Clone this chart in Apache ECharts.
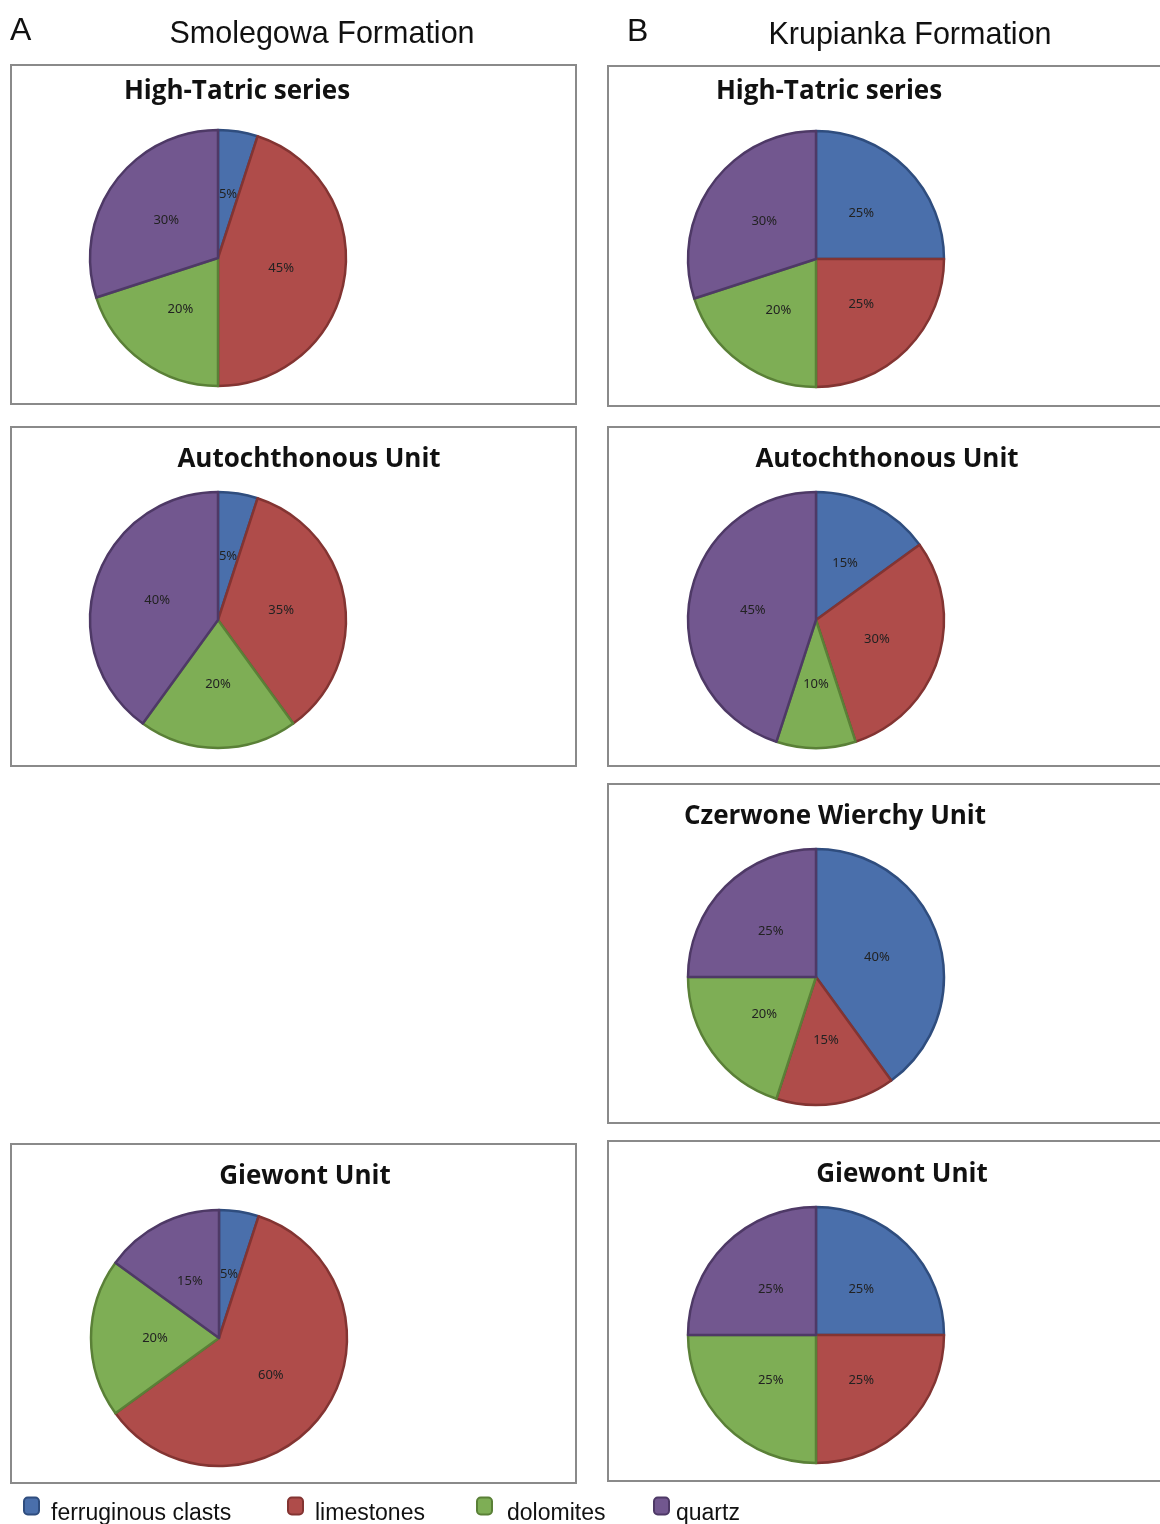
<!DOCTYPE html>
<html><head><meta charset="utf-8">
<script src="https://cdn.jsdelivr.net/npm/echarts@6/dist/echarts.min.js"></script>
<style>html,body{margin:0;padding:0;background:#fff}#c{width:1160px;height:1524px}</style>
</head><body><div id="c"></div>
<script>
const categories = ['ferruginous clasts', 'limestones', 'dolomites', 'quartz'];
const smolegowaHighTatric = [5, 45, 20, 30];
const smolegowaAutochthonous = [5, 35, 20, 40];
const smolegowaGiewont = [5, 60, 20, 15];
const krupiankaHighTatric = [25, 25, 20, 30];
const krupiankaAutochthonous = [15, 30, 10, 45];
const krupiankaCzerwoneWierchy = [40, 15, 20, 25];
const krupiankaGiewont = [25, 25, 25, 25];

const fills = ['#4A6FAB', '#AF4C4A', '#7EAE55', '#72578F'];
const borders = ['#2F4D7E', '#833432', '#5A8037', '#4E3966'];

const panels = [
  {title: 'High-Tatric series', data: smolegowaHighTatric, box: [11, 65, 565, 339], c: [218, 258], tx: 237, ty: 89},
  {title: 'Autochthonous Unit', data: smolegowaAutochthonous, box: [11, 427, 565, 339], c: [218, 620], tx: 309, ty: 457},
  {title: 'Giewont Unit', data: smolegowaGiewont, box: [11, 1144, 565, 339], c: [219, 1338], tx: 305, ty: 1174},
  {title: 'High-Tatric series', data: krupiankaHighTatric, box: [608, 66, 560, 340], c: [816, 259], tx: 829, ty: 89},
  {title: 'Autochthonous Unit', data: krupiankaAutochthonous, box: [608, 427, 560, 339], c: [816, 620], tx: 887, ty: 457},
  {title: 'Czerwone Wierchy Unit', data: krupiankaCzerwoneWierchy, box: [608, 784, 560, 339], c: [816, 977], tx: 835, ty: 814},
  {title: 'Giewont Unit', data: krupiankaGiewont, box: [608, 1141, 560, 340], c: [816, 1335], tx: 902, ty: 1172}
];

const chart = echarts.init(document.getElementById('c'), null, {renderer: 'canvas'});

const graphics = panels.map(p => ({
  type: 'rect', z: -1,
  shape: {x: p.box[0], y: p.box[1], width: p.box[2], height: p.box[3]},
  style: {fill: '#fff', stroke: '#8a8a8a', lineWidth: 2}
}));
graphics.push(
  {type: 'text', style: {text: 'A', x: 10, y: 31, verticalAlign: 'middle', font: '32px "Liberation Sans"', fill: '#111'}},
  {type: 'text', style: {text: 'Smolegowa Formation', x: 322, y: 35, align: 'center', verticalAlign: 'middle', font: '30.5px "Liberation Sans"', fill: '#111'}},
  {type: 'text', style: {text: 'B', x: 627, y: 32, verticalAlign: 'middle', font: '32px "Liberation Sans"', fill: '#111'}},
  {type: 'text', style: {text: 'Krupianka Formation', x: 910, y: 36, align: 'center', verticalAlign: 'middle', font: '30.5px "Liberation Sans"', fill: '#111'}}
);

const titles = panels.map(p => ({
  text: p.title,
  left: p.tx - 5, top: p.ty - 15,
  textAlign: 'center',
  textStyle: {fontFamily: '"Open Sans"', fontWeight: 'bold', fontSize: 26, color: '#111'}
}));

const series = panels.map(p => ({
  type: 'pie',
  center: p.c,
  radius: 128,
  startAngle: 90,
  clockwise: true,
  animation: false,
  silent: true,
  label: {show: true, position: 'inside', formatter: '{c}%', fontSize: 13, fontFamily: '"Noto Sans"', color: '#222'},
  labelLine: {show: false},
  labelLayout: function (params) {
    const r = params.labelRect;
    const lx = r.x + r.width / 2 - p.c[0];
    const ly = r.y + r.height / 2 - p.c[1];
    const d = Math.hypot(lx, ly) || 1;
    return {dx: -3 * lx / d, dy: -3 * ly / d};
  },
  data: categories.map((n, i) => ({
    name: n, value: p.data[i],
    itemStyle: {color: fills[i], borderColor: borders[i], borderWidth: 2.5}
  }))
}));

const legendX = [18, 282, 471, 648];
const legendPad = [7, 7, 10, 2];
const legends = categories.map((n, i) => ({
  data: [n], left: legendX[i], top: 1481.5,
  icon: 'roundRect', itemWidth: 15, itemHeight: 17, itemGap: 0,
  selectedMode: false,
  formatter: '\n{name}',
  textStyle: {fontFamily: '"Liberation Sans"', fontSize: 23, lineHeight: 16, color: '#111', padding: [0, 0, 0, legendPad[i]]}
}));

chart.setOption({
  animation: false,
  title: titles,
  legend: legends,
  graphic: graphics,
  series: series
});
</script></body></html>
